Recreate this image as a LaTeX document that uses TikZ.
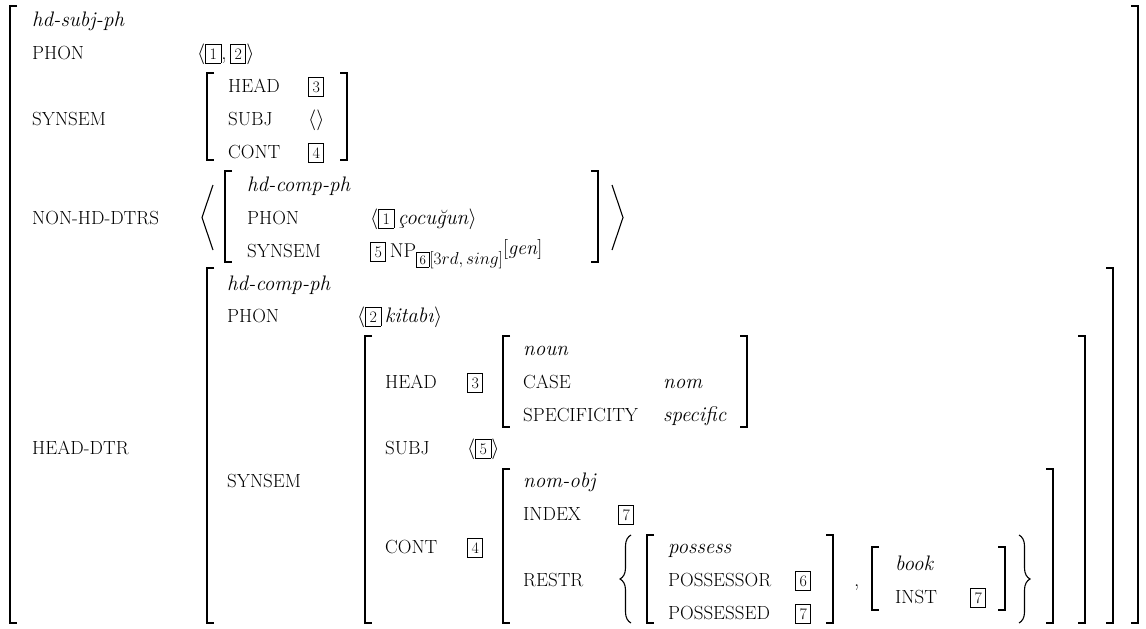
\documentclass[tikz,border=0pt]{standalone}
\usepackage{amsmath, amssymb}
\usepackage{tikz}
\usetikzlibrary{decorations.pathreplacing}

% boxed tags
\newcommand{\tg}[1]{{\setlength{\fboxsep}{3.5pt}\setlength{\fboxrule}{0.9pt}\fbox{\fontsize{16}{16}\selectfont\upshape #1}}}
\newcommand{\stg}[1]{{\setlength{\fboxsep}{2.5pt}\setlength{\fboxrule}{0.9pt}\fbox{\fontsize{13}{13}\selectfont\upshape #1}}}
% brackets: x, top, bottom
\newcommand{\lbrk}[3]{\draw[brk] (#1+7,#2) -- (#1,#2) -- (#1,#3) -- (#1+7,#3);}
\newcommand{\rbrk}[3]{\draw[brk] (#1-7,#2) -- (#1,#2) -- (#1,#3) -- (#1-7,#3);}

\begin{document}
\begin{tikzpicture}[x=1pt, y=-1pt,
  lbl/.style={anchor=base west, inner sep=0pt, font=\fontsize{19}{21}\selectfont},
  typ/.style={anchor=base west, inner sep=0pt, font=\fontsize{21}{23}\selectfont\itshape},
  val/.style={anchor=base west, inner sep=0pt, font=\fontsize{21}{23}\selectfont},
  brk/.style={line width=1.2pt},
  brc/.style={line width=1.1pt, decorate, decoration={brace, amplitude=11pt, aspect=0.5}}]
  \useasboundingbox (0,0) rectangle (1146,629);

  % outer matrix
  \lbrk{10}{6}{623}
  \rbrk{1138}{6}{623}
  \node[typ] (top-type) at (32,26) {hd-subj-ph};
  \node[lbl] (top-phon) at (32,59) {PHON};
  \node[val] (top-phon-v) at (197,59) {$\langle$\tg{1},\,\tg{2}$\rangle$};
  \node[lbl] (top-synsem) at (32,125) {SYNSEM};

  % synsem of the mother
  \lbrk{207}{73}{160}
  \rbrk{347}{73}{160}
  \node[lbl] (top-head) at (228,92) {HEAD};
  \node[val] (top-head-v) at (308,92) {\tg{3}};
  \node[lbl] (top-subj) at (228,125) {SUBJ};
  \node[val] (top-subj-v) at (308,125) {$\langle\rangle$};
  \node[lbl] (top-cont) at (228,158) {CONT};
  \node[val] (top-cont-v) at (308,158) {\tg{4}};

  % non-head daughters
  \node[lbl] (nhd) at (32,224) {NON-HD-DTRS};
  \draw[line width=1.1pt] (213,185) -- (202,217.5) -- (213,250);
  \draw[line width=1.1pt] (612,185) -- (623,217.5) -- (612,250);
  \lbrk{225}{171}{262}
  \rbrk{598}{171}{262}
  \node[typ] (nhd-type) at (247,191) {hd-comp-ph};
  \node[lbl] (nhd-phon) at (247,224) {PHON};
  \node[val] (nhd-phon-v) at (370,224) {$\langle$\tg{1}\,\textit{çocuğun}$\rangle$};
  \node[lbl] (nhd-synsem) at (247,257) {SYNSEM};
  \node[val] (nhd-synsem-v) at (370,257) {\tg{5}\,\fontsize{20}{21}\selectfont NP\raisebox{-7pt}{\stg{6}\fontsize{17}{17}\selectfont$[3rd,sing]$}\raisebox{3pt}{[\textit{gen}]}};

  % head daughter
  \node[lbl] (hd) at (32,454) {HEAD-DTR};
  \lbrk{207}{268}{623}
  \rbrk{1113}{268}{623}
  \node[typ] (hd-type) at (227,290) {hd-comp-ph};
  \node[lbl] (hd-phon) at (227,322) {PHON};
  \node[val] (hd-phon-v) at (357,322) {$\langle$\tg{2}\,\textit{kitabı}$\rangle$};
  \node[lbl] (hd-synsem) at (227,487) {SYNSEM};

  % synsem of the head daughter
  \lbrk{365}{336}{623}
  \rbrk{1085}{336}{623}
  \node[lbl] (hd-head) at (385,388) {HEAD};
  \node[val] (hd-head-v) at (467,388) {\tg{3}};
  \lbrk{503}{336}{427}
  \rbrk{747}{336}{427}
  \node[typ] (noun) at (523,355) {noun};
  \node[lbl] (case) at (523,388) {CASE};
  \node[typ] (case-v) at (663,388) {nom};
  \node[lbl] (spec) at (523,421) {SPECIFICITY};
  \node[typ] (spec-v) at (663,421) {specific};
  \node[lbl] (hd-subj) at (385,454) {SUBJ};
  \node[val] (hd-subj-v) at (467,454) {$\langle$\tg{5}$\rangle$};
  \node[lbl] (hd-cont) at (385,553) {CONT};
  \node[val] (hd-cont-v) at (467,553) {\tg{4}};

  % content
  \lbrk{503}{469}{623}
  \rbrk{1053}{469}{623}
  \node[typ] (nomobj) at (523,487) {nom-obj};
  \node[lbl] (index) at (523,520) {INDEX};
  \node[val] (index-v) at (618,520) {\tg{7}};
  \node[lbl] (restr) at (523,586) {RESTR};
  \draw[brc] (631,623) -- (631,535);
  \draw[brc] (1019,535) -- (1019,623);

  % restrictions
  \lbrk{647}{535}{623}
  \rbrk{833}{535}{623}
  \node[typ] (possess) at (668,553) {possess};
  \node[lbl] (possessor) at (668,586) {POSSESSOR};
  \node[val] (possessor-v) at (795,586) {\tg{6}};
  \node[lbl] (possessed) at (668,619) {POSSESSED};
  \node[val] (possessed-v) at (795,619) {\tg{7}};
  \node[val] (comma) at (854,586) {,};
  \lbrk{872}{547}{610}
  \rbrk{1005}{547}{610}
  \node[typ] (book) at (895,570) {book};
  \node[lbl] (inst) at (895,603) {INST};
  \node[val] (inst-v) at (970,603) {\tg{7}};
\end{tikzpicture}
\end{document}
